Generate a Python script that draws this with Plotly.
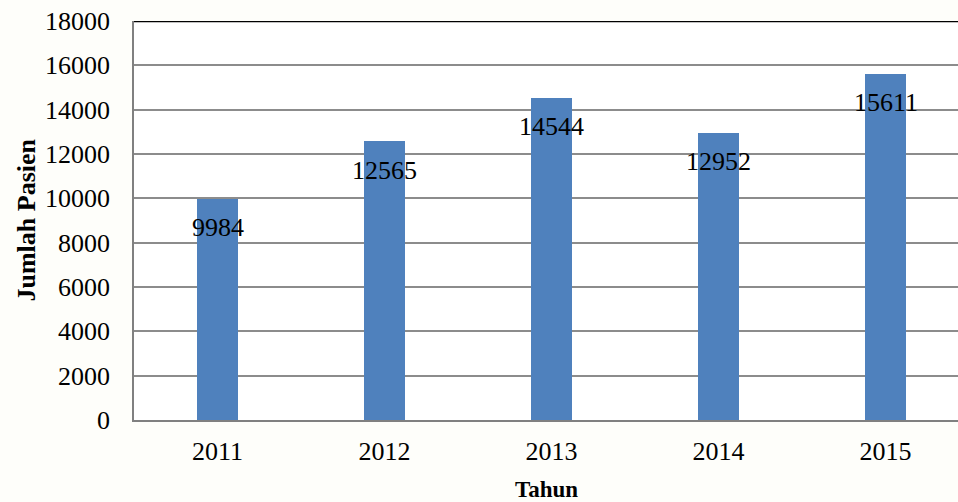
import plotly.graph_objects as go

years = ["2011", "2012", "2013", "2014", "2015"]
patients = [9984, 12565, 14544, 12952, 15611]
y_ticks = [0, 2000, 4000, 6000, 8000, 10000, 12000, 14000, 16000, 18000]
x_title = "Tahun"
y_title = "Jumlah Pasien"

FONT = "Liberation Serif, Times New Roman, serif"

fig = go.Figure()
fig.add_trace(go.Bar(
    x=years, y=patients, width=0.245,
    marker=dict(color="#4F81BD", line=dict(color="#4F81BD", width=0)),
    hoverinfo="x+y",
))

for i, v in enumerate(patients):
    fig.add_annotation(x=i, y=v, xref="x", yref="y", text=str(v), showarrow=False,
                       yanchor="middle", yshift=-29,
                       font=dict(family=FONT, size=26, color="black"))

fig.add_annotation(xref="paper", yref="paper", x=0.5, y=-0.175, yanchor="middle",
                   text="<b>" + x_title + "</b>", showarrow=False,
                   font=dict(family=FONT, size=23, color="black"))
fig.add_annotation(xref="paper", yref="paper", x=-0.131, y=0.5, xanchor="center", yanchor="middle",
                   textangle=-90, text="<b>" + y_title + "</b>", showarrow=False,
                   font=dict(family=FONT, size=26, color="black"))

fig.add_shape(type="line", xref="paper", yref="y", x0=0, x1=1, y0=18000, y1=18000,
              line=dict(color="black", width=2.5))

fig.update_layout(
    width=958, height=502,
    margin=dict(l=134, r=0, t=21, b=82),
    paper_bgcolor="#FEFEFA",
    plot_bgcolor="white",
    font=dict(family=FONT, size=26, color="black"),
    showlegend=False,
    bargap=0,
)
fig.update_xaxes(
    type="category", range=[-0.5, 4.434], automargin=False,
    showgrid=False, showline=True, linecolor="#808080", linewidth=2,
    ticks="", ticklabelstandoff=7,
    tickfont=dict(family=FONT, size=26),
)
fig.update_yaxes(
    range=[0, 18000], tickvals=y_ticks, ticktext=[str(t) for t in y_ticks], automargin=False,
    showgrid=True, gridcolor="#8C8C8C", gridwidth=1.5,
    showline=True, linecolor="#808080", linewidth=1.5,
    zeroline=False,
    ticks="", ticklabelstandoff=17,
    tickfont=dict(family=FONT, size=26),
)

fig.write_html("out.html", config={"displayModeBar": False},
               post_script="document.body.style.margin='0';document.body.style.overflow='hidden';")
